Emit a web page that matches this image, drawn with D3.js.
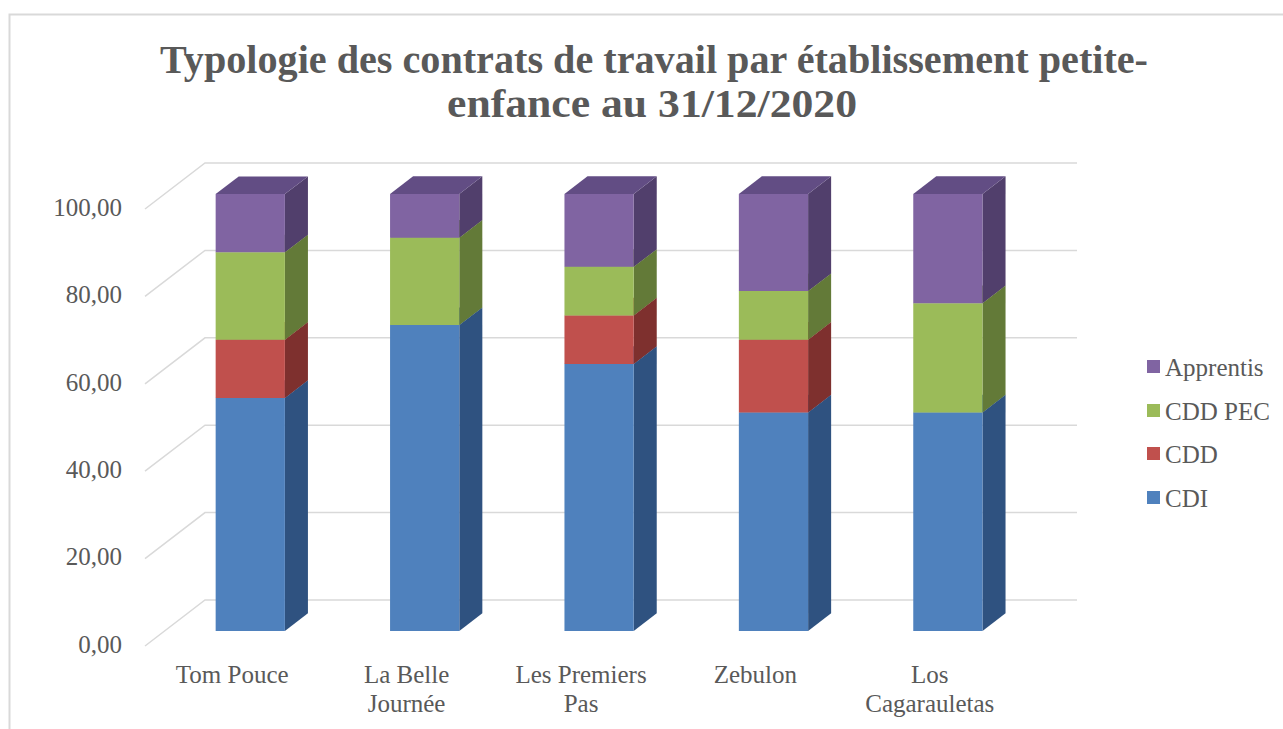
<!DOCTYPE html>
<html><head><meta charset="utf-8">
<script src="https://cdn.jsdelivr.net/npm/d3@7"></script>
<style>html,body{margin:0;padding:0;background:#fff;overflow:hidden}</style>
</head><body>
<svg id="c" width="1283" height="729"></svg>
<script>
const categories = ["Tom Pouce", "La Belle Journée", "Les Premiers Pas", "Zebulon", "Los Cagarauletas"];
const categoryLines = [["Tom Pouce"], ["La Belle", "Journée"], ["Les Premiers", "Pas"], ["Zebulon"], ["Los", "Cagarauletas"]];
const seriesNames = ["CDI", "CDD", "CDD PEC", "Apprentis"];
const CDI = [53.33, 70.00, 61.11, 50.00, 50.00];
const CDD = [13.33, 0.00, 11.11, 16.67, 0.00];
const CDD_PEC = [20.00, 20.00, 11.11, 11.11, 25.00];
const Apprentis = [13.33, 10.00, 16.67, 22.22, 25.00];
const yTicks = [0, 20, 40, 60, 80, 100];
const titleLines = ["Typologie des contrats de travail par établissement petite-", "enfance au 31/12/2020"];

const seriesValues = [CDI, CDD, CDD_PEC, Apprentis];
const colors = {
  front: ["#4F81BD", "#C0504D", "#9BBB59", "#8064A2"],
  side:  ["#2F5280", "#7E302E", "#637A38", "#513F6C"],
  top:   ["#3B659A", "#9C3E3B", "#7C9747", "#624D84"]
};

const svg = d3.select("#c");
const font = "'Liberation Serif', 'DejaVu Serif', serif";
const textCol = "#595959";

// frame
svg.append("rect").attr("x", 9.5).attr("y", 14.5).attr("width", 1400).attr("height", 900)
  .attr("fill", "none").attr("stroke", "#d9d9d9").attr("stroke-width", 2);

// scales (front plane)
const x = d3.scaleBand().domain(categories).range([145, 1017]);
const y = d3.scaleLinear().domain([0, 100]).range([646, 209]);
const DX = 60, DY = -46; // full depth offset
const proj = (px, v, d) => [px + d * DX, y(v) + d * DY];

// gridlines
const grid = svg.append("g");
yTicks.forEach(t => {
  const p0 = proj(145, t, 0), p1 = proj(145, t, 1), p2 = proj(1017, t, 1);
  grid.append("path").attr("d", `M${p0}L${p1}L${p2}`)
    .attr("fill", "none").attr("stroke", "#d9d9d9").attr("stroke-width", 1.5);
});

// y tick labels
svg.append("g").selectAll("text").data(yTicks).join("text")
  .attr("x", 122).attr("y", d => y(d) - 2).attr("dy", "0.35em")
  .attr("text-anchor", "end").attr("font-family", font).attr("font-size", 25)
  .attr("fill", textCol).text(d => d3.format(".2f")(d).replace(".", ","));

// bars
const d1 = 0.326, d2 = 0.71;
const bars = svg.append("g");
categories.forEach((cat, i) => {
  const bx0 = x(cat) + x.bandwidth() * 0.293;
  const bx1 = x(cat) + x.bandwidth() * 0.69;
  let base = 0;
  seriesValues.forEach((arr, s) => {
    const v = arr[i];
    if (v <= 0) return;
    const top = base + v;
    const fA = proj(bx0, base, d1), fB = proj(bx1, base, d1), fC = proj(bx1, top, d1), fD = proj(bx0, top, d1);
    const bB = proj(bx1, base, d2), bC = proj(bx1, top, d2), bD = proj(bx0, top, d2);
    bars.append("path").attr("d", `M${fB}L${bB}L${bC}L${fC}Z`).attr("fill", colors.side[s]);
    bars.append("path").attr("d", `M${fD}L${fC}L${bC}L${bD}Z`).attr("fill", colors.top[s]);
    bars.append("path").attr("d", `M${fA}L${fB}L${fC}L${fD}Z`).attr("fill", colors.front[s]);
    base = top;
  });
});

// category labels
const cl = svg.append("g");
categories.forEach((cat, i) => {
  const cx = x(cat) + x.bandwidth() / 2;
  categoryLines[i].forEach((ln, j) => {
    cl.append("text").attr("x", cx).attr("y", 683 + j * 29)
      .attr("text-anchor", "middle").attr("font-family", font).attr("font-size", 25)
      .attr("fill", textCol).text(ln);
  });
});

// legend
const legY = [498, 454, 411, 367];
const lg = svg.append("g");
seriesNames.forEach((n, s) => {
  lg.append("rect").attr("x", 1147).attr("y", legY[s] - 7).attr("width", 13).attr("height", 13)
    .attr("fill", colors.front[s]);
  lg.append("text").attr("x", 1165).attr("y", legY[s]).attr("dy", "0.35em")
    .attr("font-family", font).attr("font-size", 25).attr("fill", textCol).text(n);
});

// title
svg.append("text").attr("x", 160).attr("y", 73).attr("textLength", 988).attr("lengthAdjust", "spacingAndGlyphs")
  .attr("font-family", font).attr("font-weight", "bold").attr("font-size", 40).attr("fill", textCol)
  .text(titleLines[0]);
svg.append("text").attr("x", 447).attr("y", 117).attr("textLength", 410).attr("lengthAdjust", "spacingAndGlyphs")
  .attr("font-family", font).attr("font-weight", "bold").attr("font-size", 40).attr("fill", textCol)
  .text(titleLines[1]);
</script>
</body></html>
